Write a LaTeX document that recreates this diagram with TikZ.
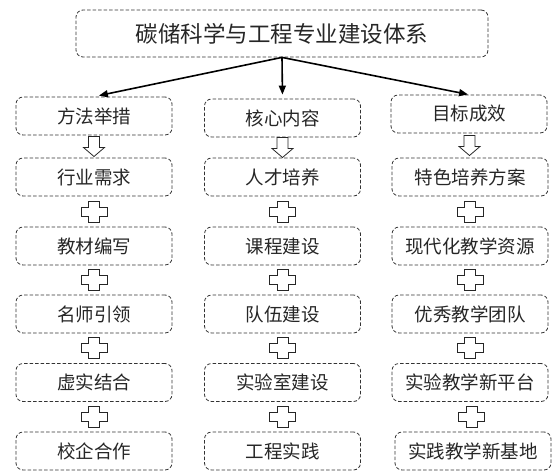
\documentclass[tikz,border=0pt]{standalone}
\usepackage{fontspec}
\setmainfont{Noto Sans CJK SC}
\usetikzlibrary{arrows.meta,calc}
\tikzset{
  box/.style={draw=black!80, dash pattern=on 3.5pt off 2pt, line width=0.8pt,
    rounded corners=7pt, minimum width=156pt, minimum height=38pt, inner sep=0pt,
    text=black!85, font=\fontsize{18.5pt}{20pt}\selectfont},
  titlebox/.style={box, minimum width=412pt, minimum height=47pt,
    font=\fontsize{22.5pt}{24pt}\selectfont},
  mainarrow/.style={line width=1.6pt, -{Triangle[length=9pt,width=7pt]}},
  hollow/.style={draw=black!85, fill=white, line width=0.8pt, solid},
  pics/plusshape/.style={code={
    \draw[hollow] (-5.5,-10.5) -- (5.5,-10.5) -- (5.5,-4.5) -- (13,-4.5) -- (13,4.5)
      -- (5.5,4.5) -- (5.5,10.5) -- (-5.5,10.5) -- (-5.5,4.5) -- (-13,4.5)
      -- (-13,-4.5) -- (-5.5,-4.5) -- cycle;}},
  pics/downshape/.style={code={
    \draw[hollow] (-5.5,-10) -- (5.5,-10) -- (5.5,1) -- (10.5,1) -- (0,10)
      -- (-10.5,1) -- (-5.5,1) -- cycle;}},
}
\begin{document}
\begin{tikzpicture}[x=1pt,y=-1pt]
\useasboundingbox (0,0) rectangle (554,471);
\node[titlebox] (top) at (282,33.5) {碳储科学与工程专业建设体系};

\node[box] (l1) at (94,116) {方法举措};
\node[box] (l2) at (94,177) {行业需求};
\node[box] (l3) at (94,246) {教材编写};
\node[box] (l4) at (94,314) {名师引领};
\node[box] (l5) at (94,382.5) {虚实结合};
\node[box] (l6) at (94,451) {校企合作};

\node[box] (m1) at (282.5,118) {核心内容};
\node[box] (m2) at (282.5,177) {人才培养};
\node[box] (m3) at (282.5,246) {课程建设};
\node[box] (m4) at (282.5,314) {队伍建设};
\node[box] (m5) at (282.5,382.5) {实验室建设};
\node[box] (m6) at (282.5,451) {工程实践};

\node[box] (r1) at (469,114) {目标成效};
\node[box] (r2) at (470,177) {特色培养方案};
\node[box] (r3) at (470,246) {现代化教学资源};
\node[box] (r4) at (470,314) {优秀教学团队};
\node[box] (r5) at (470,382.5) {实验教学新平台};
\node[box] (r6) at (473,451) {实践教学新基地};

\draw[mainarrow, shorten >=5pt] (top.south) -- (l1.north);
\draw[mainarrow, shorten >=4pt] (top.south) -- (m1.north);
\draw[mainarrow, shorten >=1pt] (top.south) -- (r1.north);

\foreach \c in {l,m,r}{
  \path ($(\c1.south)!0.5!(\c2.north)$) pic {downshape};
  \foreach \a/\b in {2/3,3/4,4/5,5/6}{
    \path ($(\c\a.south)!0.5!(\c\b.north)$) pic {plusshape};
  }
}
\end{tikzpicture}
\end{document}
